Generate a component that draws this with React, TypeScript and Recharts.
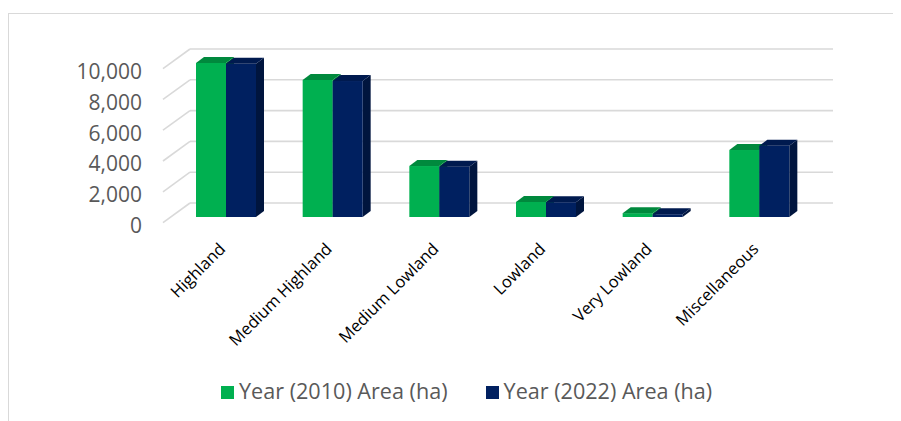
import { BarChart, Bar, XAxis, YAxis, CartesianGrid, Legend } from 'recharts';

const categories = ['Highland', 'Medium Highland', 'Medium Lowland', 'Lowland', 'Very Lowland', 'Miscellaneous'];
const area2010 = [10000, 8900, 3310, 980, 250, 4350];
const area2022 = [9950, 8830, 3270, 960, 180, 4630];
const yTicks = [0, 2000, 4000, 6000, 8000, 10000];

const data = categories.map((name, i) => ({ name, y2010: area2010[i], y2022: area2022[i] }));

// 3d depth of a bar
const DX = 8;
const DY = 6;

function Bar3D(props: any) {
  const { x, y, width, height, fill, topFill, sideFill } = props;
  if (x == null || y == null) return null;
  const top = `M${x},${y} L${x + DX},${y - DY} L${x + width + DX},${y - DY} L${x + width},${y} Z`;
  const side = `M${x + width},${y} L${x + width + DX},${y - DY} L${x + width + DX},${y + height - DY} L${x + width},${y + height} Z`;
  return (
    <g>
      <path d={side} fill={sideFill} />
      <rect x={x} y={y} width={width} height={height} fill={fill} />
      <path d={top} fill={topFill} />
    </g>
  );
}

const gridLine = (p: any) => {
  const { x1, x2, y1 } = p;
  const by = y1 - 14;
  return (
    <g key={p.key}>
      <line x1={x1 + 17} y1={by} x2={x2 + 20} y2={by} stroke="#D9D9D9" strokeWidth={1.6} />
      <line x1={x1 + 17} y1={by} x2={x1 - 10} y2={y1 + 5.6} stroke="#D9D9D9" strokeWidth={1.6} />
    </g>
  );
};

const YTick = (p: any) => (
  <text x={134} y={p.y + 8} textAnchor="end" dominantBaseline="central" fontSize={21} fill="#595959" fontFamily="Open Sans">
    {Number(p.payload.value).toLocaleString('en-US')}
  </text>
);

const XTick = (p: any) => (
  <text
    x={p.x}
    y={p.y + 33}
    textAnchor="end"
    fontSize={16.5}
    fill="#000"
    fontFamily="Open Sans"
    transform={`rotate(-45 ${p.x} ${p.y + 33})`}
  >
    {p.payload.value}
  </text>
);

const renderLegend = (props: any) => (
  <div style={{ display: 'flex', alignItems: 'center', fontFamily: 'Open Sans', fontSize: 21.6, color: '#595959', lineHeight: '28px' }}>
    {props.payload.map((e: any, i: number) => (
      <div key={e.value} style={{ display: 'flex', alignItems: 'center', marginLeft: i ? 38 : 0 }}>
        <span style={{ width: 13, height: 13, background: e.color, marginRight: 5, marginTop: 2 }} />
        <span>{e.value}</span>
      </div>
    ))}
  </div>
);

export default function App() {
  return (
    <div style={{ position: 'relative', width: 893, height: 413 }}>
      <style>{'body{overflow:hidden}'}</style>
      <div style={{ position: 'absolute', left: 0, top: 5, right: 0, bottom: 0, borderTop: '1px solid #D9D9D9', borderLeft: '1px solid #D9D9D9' }} />
      <div style={{ position: 'absolute', left: 0, top: 0 }}>
        <BarChart width={893} height={413} data={data} margin={{ top: 55, right: 88, bottom: 104, left: 1 }} barGap={0} barSize={30}>
          <CartesianGrid vertical={false} horizontal={gridLine} />
          <XAxis dataKey="name" height={100} axisLine={false} tickLine={false} tickSize={0} tickMargin={0} interval={0} tick={XTick} />
          <YAxis domain={[0, 10000]} ticks={yTicks} width={164} axisLine={false} tickLine={false} tick={YTick} />
          <Legend
            layout="horizontal"
            verticalAlign="middle"
            align="center"
            wrapperStyle={{ top: 369, left: 213, width: 620 }}
            content={renderLegend}
          />
          <Bar
            dataKey="y2010"
            name="Year (2010) Area (ha)"
            fill="#00B050"
            isAnimationActive={false}
            shape={(p: any) => <Bar3D {...p} topFill="#00893D" sideFill="#007A36" />}
          />
          <Bar
            dataKey="y2022"
            name="Year (2022) Area (ha)"
            fill="#002060"
            isAnimationActive={false}
            shape={(p: any) => <Bar3D {...p} topFill="#001A4F" sideFill="#00153E" />}
          />
        </BarChart>
      </div>
    </div>
  );
}
